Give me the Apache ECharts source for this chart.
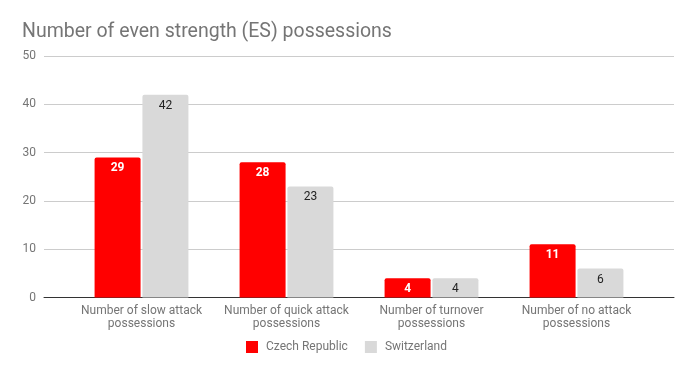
<!DOCTYPE html>
<html>
<head>
<meta charset="utf-8">
<script src="https://cdn.jsdelivr.net/npm/echarts@6/dist/echarts.min.js"></script>
<style>html,body{margin:0;padding:0;background:#fff;}#c{width:693px;height:371px;}</style>
</head>
<body>
<div id="c"></div>
<script>
const titleText = "Number of even strength (ES) possessions";
const categories = ["Number of slow attack\npossessions", "Number of quick attack\npossessions", "Number of turnover\npossessions", "Number of no attack\npossessions"];
const seriesNames = ["Czech Republic", "Switzerland"];
const czechValues = [29, 28, 4, 11];
const swissValues = [42, 23, 4, 6];
const yTicks = { min: 0, max: 50, interval: 10 };

const chart = echarts.init(document.getElementById('c'), null, { renderer: 'canvas' });
const font = 'Roboto, "Noto Sans", sans-serif';
const grey = '#757575';
chart.setOption({
  animation: false,
  backgroundColor: '#fff',
  textStyle: { fontFamily: font },
  title: {
    text: titleText, left: 17, top: 17,
    textStyle: { fontFamily: font, fontSize: 19.5, fontWeight: 'normal', color: grey }
  },
  legend: {
    bottom: 13, left: 'center', icon: 'rect', itemWidth: 12, itemHeight: 12, itemGap: 17,
    textStyle: { fontFamily: font, fontSize: 12, color: grey, padding: [0, 0, 0, 3] },
    data: seriesNames
  },
  grid: [
    { left: 44, right: 19, top: 56, bottom: 73.5 },
    { left: 69, right: 44, top: 56, bottom: 73.5 }
  ],
  xAxis: [
    { gridIndex: 0, type: 'category', data: [''], axisLine: { show: true, lineStyle: { color: '#333', width: 1 } },
      axisTick: { show: false }, axisLabel: { show: false }, splitLine: { show: false } },
    { gridIndex: 1, type: 'category', data: categories, axisLine: { show: false }, axisTick: { show: false },
      axisLabel: { color: grey, fontSize: 12, fontFamily: font, lineHeight: 13, margin: 7, interval: 0 } }
  ],
  yAxis: [
    { gridIndex: 0, type: 'value', min: yTicks.min, max: yTicks.max, interval: yTicks.interval,
      axisLine: { show: false }, axisTick: { show: false },
      axisLabel: { color: grey, fontSize: 12, fontFamily: font, margin: 8 },
      splitLine: { lineStyle: { color: '#cccccc', width: 1 } } },
    { gridIndex: 1, type: 'value', min: yTicks.min, max: yTicks.max, interval: yTicks.interval, show: false,
      splitLine: { show: false } }
  ],
  series: [
    { name: seriesNames[0], type: 'bar', xAxisIndex: 1, yAxisIndex: 1, data: czechValues,
      barWidth: 46, barGap: '4%', itemStyle: { color: '#ff0000', borderRadius: [2, 2, 0, 0] },
      label: { show: true, position: 'insideTop', distance: 5, color: '#ffffff', fontWeight: 'bold', fontSize: 12, fontFamily: font } },
    { name: seriesNames[1], type: 'bar', xAxisIndex: 1, yAxisIndex: 1, data: swissValues,
      barWidth: 46, itemStyle: { color: '#d9d9d9', borderRadius: [2, 2, 0, 0] },
      label: { show: true, position: 'insideTop', distance: 5, color: '#222222', fontSize: 12, fontFamily: font } }
  ]
});
</script>
</body>
</html>
